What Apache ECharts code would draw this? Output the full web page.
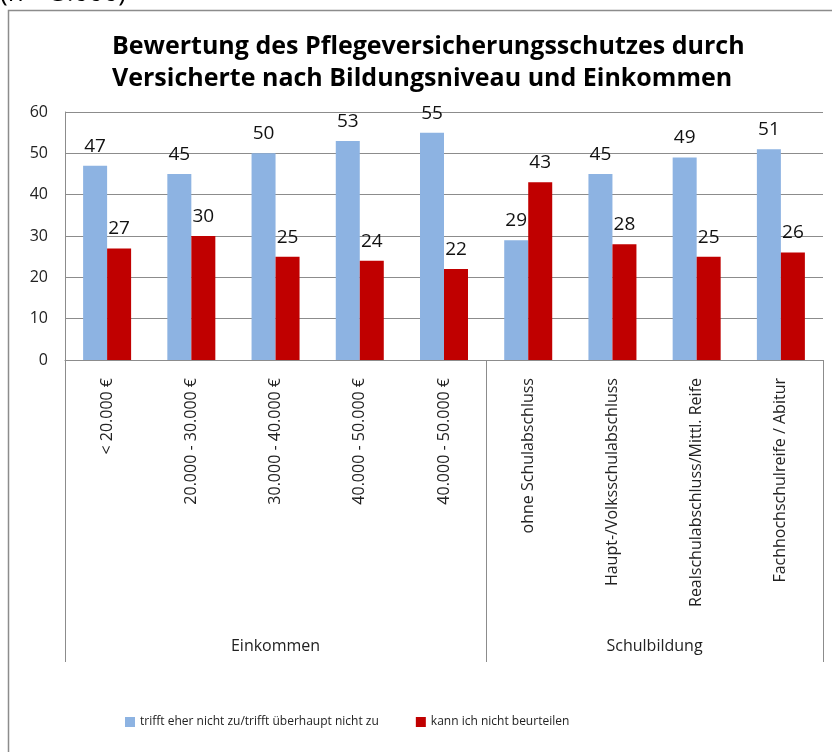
<!DOCTYPE html>
<html>
<head>
<meta charset="utf-8">
<script src="https://cdn.jsdelivr.net/npm/echarts@6/dist/echarts.min.js"></script>
<style>
  html, body { margin: 0; padding: 0; background: #fff; }
  #chart { width: 832px; height: 752px; }
</style>
</head>
<body>
<div id="chart"></div>
<script>
// categories (income brackets, then school education)
var categories = ['< 20.000 €', '20.000 - 30.000 €', '30.000 - 40.000 €', '40.000 - 50.000 €', '40.000 - 50.000 €',
  'ohne Schulabschluss', 'Haupt-/Volksschulabschluss', 'Realschulabschluss/Mittl. Reife', 'Fachhochschulreife / Abitur']
var groupNames = ['Einkommen', 'Schulbildung']
var groupSizes = [5, 4]
var seriesNames = ['trifft eher nicht zu/trifft überhaupt nicht zu', 'kann ich nicht beurteilen']
var trifftNicht = [47, 45, 50, 53, 55, 29, 45, 49, 51]
var kannNicht = [27, 30, 25, 24, 22, 43, 28, 25, 26]

// group boundaries and centres on a 0..n value scale
var bounds = [0]
var centres = []
groupSizes.forEach(function(s) {
  var start = bounds[bounds.length - 1]
  centres.push(start + s / 2)
  bounds.push(start + s)
})

var chart = echarts.init(document.getElementById('chart'))
var font = '"Open Sans", "Noto Sans", sans-serif'

chart.setOption({
  animation: false,
  textStyle: { fontFamily: font },
  title: {
    text: 'Bewertung des Pflegeversicherungsschutzes durch\nVersicherte nach Bildungsniveau und Einkommen',
    left: 107,
    top: 26,
    textStyle: { fontSize: 25, fontWeight: 'bold', color: '#000', lineHeight: 32, fontFamily: font }
  },
  graphic: [
    {
      type: 'rect',
      shape: { x: 8.5, y: 10.5, width: 840, height: 760 },
      style: { fill: 'none', stroke: '#8c8c8c', lineWidth: 1.5 },
      silent: true
    },
    {
      type: 'text',
      left: 0,
      top: -19,
      style: { text: '(n = 3.000)', font: '26px ' + font, fill: '#000' }
    }
  ],
  legend: {
    data: seriesNames,
    left: 120,
    top: 711,
    icon: 'rect',
    itemWidth: 10,
    itemHeight: 10,
    itemGap: 37,
    textStyle: { fontSize: 12, color: '#222', fontFamily: font }
  },
  grid: { left: 65, right: 9, top: 112, bottom: 392 },
  xAxis: [
    {
      type: 'category',
      data: categories,
      axisLine: { lineStyle: { color: '#8c8c8c', width: 1 } },
      axisTick: { show: false },
      axisLabel: { rotate: 90, margin: 18, fontSize: 16, color: '#222', fontFamily: font }
    },
    {
      type: 'value',
      min: 0,
      max: categories.length,
      position: 'bottom',
      axisLine: { show: false },
      splitLine: { show: false },
      axisTick: { show: true, customValues: bounds, length: 302, lineStyle: { color: '#8c8c8c' } },
      axisLabel: {
        customValues: centres,
        margin: 278,
        fontSize: 16,
        color: '#222',
        fontFamily: font,
        formatter: function(v) {
          var i = centres.indexOf(v)
          return i >= 0 ? groupNames[i] : ''
        }
      }
    }
  ],
  yAxis: {
    type: 'value',
    min: 0,
    max: 60,
    interval: 10,
    axisLine: { show: true, lineStyle: { color: '#8c8c8c' } },
    axisTick: { show: false },
    splitLine: { lineStyle: { color: '#8c8c8c', width: 1 } },
    axisLabel: { fontSize: 16, color: '#222', margin: 17, fontFamily: font }
  },
  series: [
    {
      name: seriesNames[0],
      type: 'bar',
      data: trifftNicht,
      barWidth: 24,
      barGap: '0%',
      itemStyle: { color: '#8db3e2' },
      label: { show: true, position: 'top', distance: 10, fontSize: 19, color: '#111', fontFamily: font }
    },
    {
      name: seriesNames[1],
      type: 'bar',
      data: kannNicht,
      barWidth: 24,
      barGap: '0%',
      itemStyle: { color: '#c00000' },
      label: { show: true, position: 'top', distance: 10, fontSize: 19, color: '#111', fontFamily: font }
    }
  ]
})
</script>
</body>
</html>
